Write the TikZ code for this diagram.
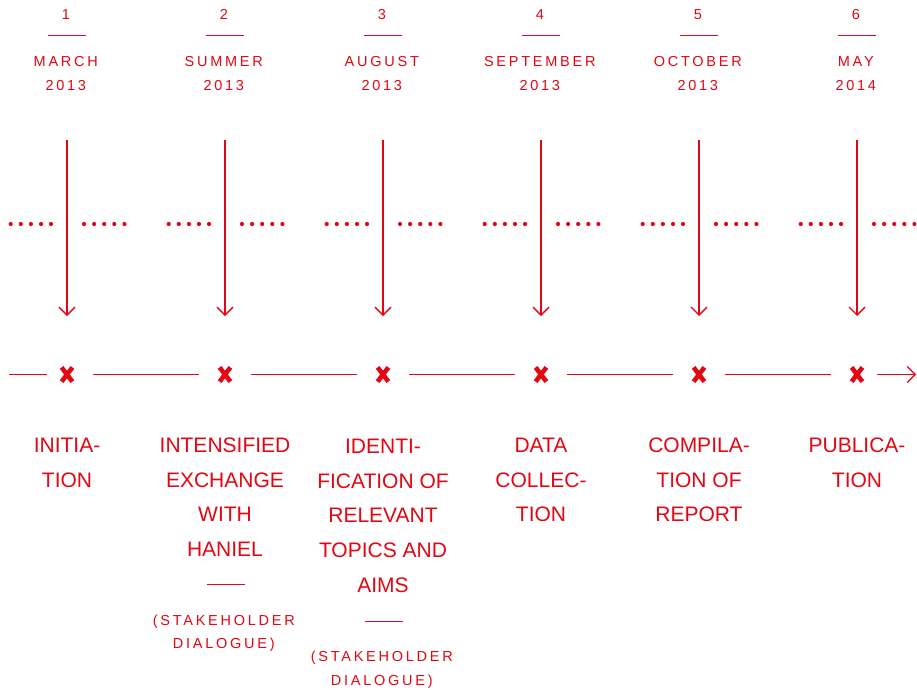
\documentclass[tikz,border=0pt]{standalone}
\usepackage{fontspec}
\setmainfont{Liberation Sans}
\newfontfamily\trackedfont[LetterSpace=19]{Liberation Sans}
\usetikzlibrary{arrows.meta}
\definecolor{brandred}{RGB}{227,6,19}
\begin{document}
\begin{tikzpicture}[x=1pt,y=-1pt,
  every node/.style={text=brandred, inner sep=0pt, outer sep=0pt},
  smalltxt/.style={font=\trackedfont\fontsize{14.5}{17}\selectfont, anchor=base, xshift=-1.2pt},
  bigtxt/.style={font=\fontsize{21}{25}\selectfont, anchor=base},
  rule/.style={draw=brandred, line width=1.1pt},
  flow/.style={draw=brandred, line width=1.3pt, -{Straight Barb[length=8pt,width=16pt]}},
  cross/.style={minimum width=10.8pt, minimum height=14.2pt},
  xstroke/.style={draw=brandred, line width=4.6pt}
]
\useasboundingbox (0,0) rectangle (917,689);

% phase headers, downward arrows, dotted guides and cross marks
\foreach \i/\x/\num/\mon/\yr in {1/67/1/MARCH/2013, 2/225/2/SUMMER/2013,
    3/383/3/AUGUST/2013, 4/541/4/SEPTEMBER/2013, 5/699/5/OCTOBER/2013,
    6/857/6/MAY/2014}{
  \node[smalltxt] (num\i) at (\x,19) {\num};
  \draw[rule] (\x-19,35.7) -- (\x+19,35.7);
  \node[smalltxt] (mon\i) at (\x,66) {\mon};
  \node[smalltxt] (yr\i) at (\x,90) {\yr};
  \coordinate (top\i) at (\x,140);
  \coordinate (tip\i) at (\x,316);
  \draw[flow] (top\i) -- (tip\i);
  \foreach \d in {-56.3,-46.2,-36.1,-26.0,-16,17,27.1,37.2,47.3,57.4}
    \fill[brandred] (\x+\d,224) circle (2.1);
  \node[cross] (x\i) at (\x,374.5) {};
  \draw[xstroke] (x\i.south west) -- (x\i.north east);
  \draw[xstroke] (x\i.north west) -- (x\i.south east);
}

% timeline
\coordinate (start) at (9,374.5);
\coordinate (end) at (916,374.5);
\draw[rule] (start) -- ([xshift=-20pt]x1.center);
\foreach \i/\j in {1/2,2/3,3/4,4/5,5/6}
  \draw[rule] ([xshift=26pt]x\i.center) -- ([xshift=-26pt]x\j.center);
\draw[flow, line width=1.1pt] ([xshift=20pt]x6.center) -- (end);

% phase labels
\foreach \t [count=\k] in {INITIA-,TION}
  \node[bigtxt] (lab1-\k) at (67,452.5+34.7*\k-34.7) {\t};
\foreach \t [count=\k] in {INTENSIFIED,EXCHANGE,WITH,HANIEL}
  \node[bigtxt] (lab2-\k) at (225,452.5+34.7*\k-34.7) {\t};
\foreach \t [count=\k] in {IDENTI-,FICATION OF,RELEVANT,TOPICS AND,AIMS}
  \node[bigtxt] (lab3-\k) at (383,453.5+34.7*\k-34.7) {\t};
\foreach \t [count=\k] in {DATA,COLLEC-,TION}
  \node[bigtxt] (lab4-\k) at (541,452.5+34.7*\k-34.7) {\t};
\foreach \t [count=\k] in {COMPILA-,TION OF,REPORT}
  \node[bigtxt] (lab5-\k) at (699,452.5+34.7*\k-34.7) {\t};
\foreach \t [count=\k] in {PUBLICA-,TION}
  \node[bigtxt] (lab6-\k) at (857,452.5+34.7*\k-34.7) {\t};

% stakeholder notes
\draw[rule] (206.5,584.3) -- (244.5,584.3);
\node[smalltxt] (note2a) at (225,625) {(STAKEHOLDER};
\node[smalltxt] (note2b) at (225,648) {DIALOGUE)};
\draw[rule] (365,621.7) -- (403,621.7);
\node[smalltxt] (note3a) at (383,661) {(STAKEHOLDER};
\node[smalltxt] (note3b) at (383,685) {DIALOGUE)};
\end{tikzpicture}
\end{document}
